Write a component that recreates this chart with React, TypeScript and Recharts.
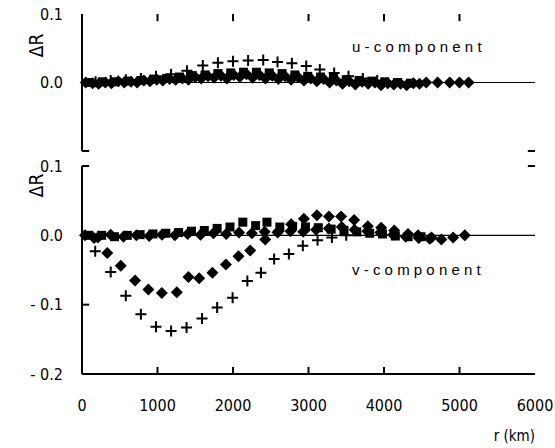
import { ScatterChart, Scatter, XAxis, YAxis, ReferenceLine } from "recharts";

// radial distance ticks (km)
const R_TICKS = [0, 1000, 2000, 3000, 4000, 5000, 6000];
const R_INNER_TICKS = [1000, 2000, 3000, 4000, 5000];
const U_TICKS = [-0.1, 0, 0.1];
const V_TICKS = [-0.2, -0.1, 0, 0.1];

// u-component: crosses
const uPlusR = [180, 380, 580, 780, 980, 1180, 1390, 1600, 1800, 2000, 2200, 2400, 2590, 2780, 2970, 3150, 3340, 3530, 3720, 3910];
const uPlusV = [0.001, 0.003, 0.004, 0.006, 0.009, 0.012, 0.017, 0.025, 0.029, 0.031, 0.032, 0.033, 0.03, 0.028, 0.024, 0.019, 0.014, 0.009, 0.006, 0.003];

// u-component: squares
const uSquareR = [100, 270, 440, 610, 780, 950, 1120, 1290, 1460, 1630, 1800, 1970, 2140, 2310, 2480, 2650, 2820, 2990, 3160, 3330, 3500, 3670, 3840, 4010, 4180, 4350];
const uSquareV = [0, 0.001, 0.001, 0.002, 0.003, 0.005, 0.006, 0.008, 0.01, 0.011, 0.013, 0.014, 0.015, 0.015, 0.014, 0.013, 0.011, 0.009, 0.008, 0.006, 0.004, 0.003, 0.002, 0.001, 0, -0.001];

// u-component: diamonds
const uDiamondR = [50, 220, 390, 560, 730, 900, 1070, 1240, 1410, 1580, 1750, 1920, 2090, 2260, 2430, 2600, 2770, 2940, 3110, 3280, 3450, 3620, 3790, 3960, 4130, 4300, 4470, 4710, 4870, 5000, 5120];
const uDiamondV = [0, -0.002, -0.001, 0, 0, 0.002, 0.003, 0.004, 0.004, 0.006, 0.007, 0.006, 0.008, 0.007, 0.006, 0.005, 0.004, 0.003, 0.002, 0, -0.002, -0.003, -0.002, -0.004, -0.003, -0.004, -0.002, 0, 0, 0, 0];

// u-component: second diamond set, slightly below the squares
const uFlatR = [140, 310, 480, 650, 820, 990, 1160, 1330, 1500, 1670, 1840, 2010, 2180, 2350, 2520, 2690, 2860, 3030, 3200, 3370, 3540, 3710, 3880, 4050, 4220, 4390, 4560];
const uFlatV = [-0.001, 0, 0.002, 0.001, 0.003, 0.004, 0.005, 0.006, 0.008, 0.009, 0.01, 0.011, 0.012, 0.011, 0.01, 0.009, 0.008, 0.006, 0.005, 0.003, 0.002, 0.001, 0, -0.001, -0.002, -0.001, 0];

// v-component: crosses
const vPlusR = [175, 380, 580, 780, 980, 1180, 1385, 1590, 1790, 1995, 2190, 2370, 2545, 2740, 2925, 3120, 3310, 3500];
const vPlusV = [-0.023, -0.053, -0.087, -0.114, -0.132, -0.138, -0.133, -0.12, -0.104, -0.09, -0.066, -0.054, -0.034, -0.027, -0.015, -0.007, -0.003, 0];

// v-component: diamonds
const vDiamondR = [160, 335, 513, 703, 879, 1057, 1256, 1410, 1552, 1728, 1906, 2073, 2228, 2427, 2600, 2770, 2939, 3112, 3271, 3431, 3604, 3786, 3963, 4136, 4318, 4451, 4605, 4761, 4916, 5070];
const vDiamondV = [-0.004, -0.0255, -0.044, -0.065, -0.078, -0.083, -0.082, -0.06, -0.062, -0.054, -0.042, -0.03, -0.022, -0.006, 0.006, 0.016, 0.024, 0.029, 0.027, 0.027, 0.022, 0.013, 0.011, 0.007, 0.002, 0, -0.005, -0.006, -0.003, 0];

// v-component: squares
const vSquareR = [90, 260, 430, 600, 770, 940, 1110, 1280, 1450, 1620, 1790, 1960, 2130, 2300, 2450, 2620, 2790, 2960, 3130, 3300, 3470, 3640, 3810, 3980, 4150, 4320, 4490];
const vSquareV = [0, 0, -0.002, 0, 0.001, 0.002, 0.003, 0.004, 0.006, 0.007, 0.01, 0.012, 0.019, 0.014, 0.019, 0.012, 0.013, 0.012, 0.011, 0.009, 0.007, 0.005, 0.003, 0.002, -0.001, -0.002, -0.002];

// v-component: diamonds hugging zero
const vFlatR = [40, 210, 380, 550, 720, 890, 1060, 1230, 1400, 1570, 1740, 1910, 2080, 2250, 2420, 2590, 2760, 2930, 3100, 3270, 3440, 3610, 3780, 3950, 4120, 4290, 4460, 4630];
const vFlatV = [0, -0.003, 0.001, -0.002, 0, -0.001, 0.001, 0, 0.002, 0.001, 0.003, 0.002, 0.004, 0.003, 0.005, 0.004, 0.006, 0.005, 0.008, 0.01, 0.012, 0.008, 0.006, 0.004, 0.001, -0.002, -0.004, -0.003];

const pts = (rs: number[], vs: number[]) => rs.map((r, i) => ({ r, v: vs[i] }));

const FONT = '"Liberation Sans Narrow", "DejaVu Sans Condensed", "Liberation Sans", sans-serif';
const INK = "#000";

// inward tick stub lengths, in axis units (about 7px each)
const R_STUB = 95;
const U_STUB = 0.0105;
const V_STUB = 0.0102;

const Plus = (p: any) => (
  <path d={`M${p.cx - 5.5},${p.cy}h11M${p.cx},${p.cy - 5.5}v11`} stroke={INK} strokeWidth={2} fill="none" />
);
const Diamond = (p: any) => (
  <path d={`M${p.cx},${p.cy - 6}L${p.cx + 6},${p.cy}L${p.cx},${p.cy + 6}L${p.cx - 6},${p.cy}Z`} fill={INK} />
);
const Square = (p: any) => <rect x={p.cx - 4.5} y={p.cy - 4.5} width={9} height={9} fill={INK} />;

const fmtV = (v: number) => (v === 0 ? "0.0" : v < 0 ? `- ${Math.abs(v).toFixed(1)}` : v.toFixed(1));

const LeftLabel = (showLabel: (v: number) => boolean) => (p: any) =>
  showLabel(p.payload.value) ? (
    <text x={p.x} y={p.y} dy="0.36em" textAnchor="end" fill={INK} fontSize={16} fontFamily={FONT}>
      {fmtV(p.payload.value)}
    </text>
  ) : (
    <g />
  );

const BottomLabel = (p: any) => (
  <text x={p.x} y={p.y} dy="0.71em" textAnchor="middle" fill={INK} fontSize={16} fontFamily={FONT}>
    {p.payload.value}
  </text>
);

const axisLine = { stroke: INK, strokeWidth: 2 };

// short inward stub drawn through the chart's own scales
const stub = (key: string, x1: number, y1: number, x2: number, y2: number) => (
  <ReferenceLine
    key={key}
    yAxisId="l"
    segment={[{ x: x1, y: y1 }, { x: x2, y: y2 }]}
    stroke={INK}
    strokeWidth={2}
  />
);

const overlay = (left: number, top: number, extra: any = {}) => ({
  position: "absolute" as const,
  left,
  top,
  color: INK,
  whiteSpace: "nowrap" as const,
  lineHeight: 1,
  ...extra,
});

export default function App() {
  return (
    <div style={{ position: "absolute", left: 0, top: 0, width: 555, height: 448, background: "#fff" }}>
      {/* upper panel: u-component */}
      <div style={{ position: "absolute", left: 0, top: 0 }}>
        <ScatterChart width={555} height={165} margin={{ top: 14, right: 20, bottom: 14, left: 0 }}>
          <XAxis
            dataKey="r"
            type="number"
            orientation="top"
            domain={[0, 6000]}
            ticks={R_INNER_TICKS}
            height={0}
            axisLine={axisLine}
            tickLine={false}
            tick={false}
          />
          <YAxis
            yAxisId="l"
            dataKey="v"
            type="number"
            domain={[-0.1, 0.1]}
            ticks={U_TICKS}
            width={82}
            axisLine={axisLine}
            tickLine={false}
            tickSize={0}
            tickMargin={19}
            tick={LeftLabel((v) => v >= 0)}
          />
          <YAxis
            yAxisId="rt"
            type="number"
            orientation="right"
            domain={[-0.1, 0.1]}
            width={0}
            axisLine={axisLine}
            tickLine={false}
            tick={false}
          />
          <ReferenceLine yAxisId="l" y={0} stroke={INK} strokeWidth={1.2} />
          {R_INNER_TICKS.map((t) => stub(`ut${t}`, t, 0.1, t, 0.1 - U_STUB))}
          {stub("ubl", 0, -0.1, R_STUB, -0.1)}
          {stub("ubr", 6000 - R_STUB, -0.1, 6000, -0.1)}
          <Scatter yAxisId="l" data={pts(uSquareR, uSquareV)} shape={Square} isAnimationActive={false} />
          <Scatter yAxisId="l" data={pts(uFlatR, uFlatV)} shape={Diamond} isAnimationActive={false} />
          <Scatter yAxisId="l" data={pts(uDiamondR, uDiamondV)} shape={Diamond} isAnimationActive={false} />
          <Scatter yAxisId="l" data={pts(uPlusR, uPlusV)} shape={Plus} isAnimationActive={false} />
        </ScatterChart>
      </div>

      {/* lower panel: v-component */}
      <div style={{ position: "absolute", left: 0, top: 150 }}>
        <ScatterChart width={555} height={298} margin={{ top: 16, right: 20, bottom: 0, left: 0 }}>
          <XAxis
            dataKey="r"
            type="number"
            domain={[0, 6000]}
            ticks={R_TICKS}
            height={74}
            axisLine={axisLine}
            tickLine={false}
            tickSize={0}
            tickMargin={26}
            tick={BottomLabel}
          />
          <YAxis
            yAxisId="l"
            dataKey="v"
            type="number"
            domain={[-0.2, 0.1]}
            ticks={V_TICKS}
            width={82}
            axisLine={axisLine}
            tickLine={false}
            tickSize={0}
            tickMargin={19}
            tick={LeftLabel(() => true)}
          />
          <YAxis
            yAxisId="rt"
            type="number"
            orientation="right"
            domain={[-0.2, 0.1]}
            width={0}
            axisLine={axisLine}
            tickLine={false}
            tick={false}
          />
          <ReferenceLine yAxisId="l" y={0} stroke={INK} strokeWidth={1.2} />
          {R_INNER_TICKS.map((t) => stub(`vb${t}`, t, -0.2, t, -0.2 + V_STUB))}
          {stub("vl1", 0, 0.1, R_STUB, 0.1)}
          {stub("vl2", 0, -0.1, R_STUB, -0.1)}
          {stub("vr1", 6000 - R_STUB, 0.1, 6000, 0.1)}
          <Scatter yAxisId="l" data={pts(vFlatR, vFlatV)} shape={Diamond} isAnimationActive={false} />
          <Scatter yAxisId="l" data={pts(vSquareR, vSquareV)} shape={Square} isAnimationActive={false} />
          <Scatter yAxisId="l" data={pts(vDiamondR, vDiamondV)} shape={Diamond} isAnimationActive={false} />
          <Scatter yAxisId="l" data={pts(vPlusR, vPlusV)} shape={Plus} isAnimationActive={false} />
        </ScatterChart>
      </div>

      {/* axis titles and panel captions */}
      <div style={overlay(25, 36, { fontFamily: FONT, fontSize: 19, transform: "rotate(-90deg)" })}>ΔR</div>
      <div style={overlay(25, 176, { fontFamily: FONT, fontSize: 19, transform: "rotate(-90deg)" })}>ΔR</div>
      <div style={overlay(352, 39, { fontFamily: '"Liberation Sans", sans-serif', fontSize: 15, letterSpacing: 4.2 })}>u-component</div>
      <div style={overlay(352, 262, { fontFamily: '"Liberation Sans", sans-serif', fontSize: 15, letterSpacing: 4.2 })}>v-component</div>
      <div style={overlay(455, 429, { width: 80, textAlign: "right", fontFamily: FONT, fontSize: 15 })}>r (km)</div>
    </div>
  );
}
